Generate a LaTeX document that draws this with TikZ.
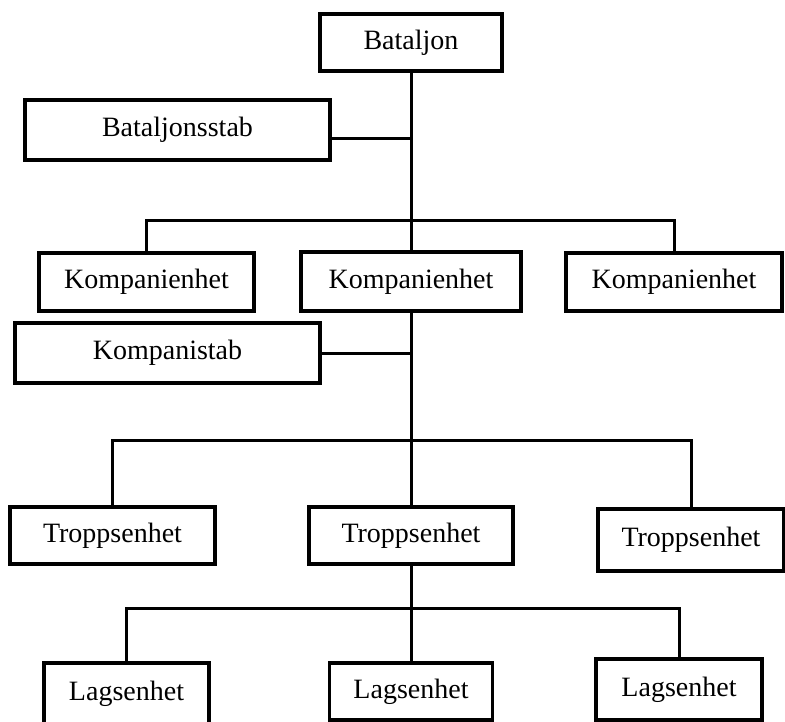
\documentclass[tikz,border=0pt]{standalone}
\usepackage{fontspec}
\setmainfont{Liberation Serif}
\usepackage{tikz}
\usetikzlibrary{positioning, calc}
\tikzset{
  unit/.style={rectangle, draw=black, line width=3.5pt, fill=white,
               align=center, inner sep=0pt,
               font=\fontsize{28}{33}\selectfont},
  link/.style={draw=black, line width=3pt},
}

\begin{document}
\begin{tikzpicture}[x=1pt, y=-1pt]
  \useasboundingbox (0,0) rectangle (785,722);

  %% Top level
  \node[unit, minimum width=182pt, minimum height=57pt] (bat) at (411,42.5) {Bataljon};
  \node[unit, minimum width=305pt, minimum height=60pt] (batstab) at (177.5,130) {Bataljonsstab};

  %% Companies
  \node[unit, minimum width=215pt, minimum height=58pt] (kompL) at (146.5,282) {Kompanienhet};
  \node[unit, minimum width=220pt, minimum height=59pt] (kompM) at (411,281.5) {Kompanienhet};
  \node[unit, minimum width=216pt, minimum height=58pt] (kompR) at (674,282) {Kompanienhet};
  \node[unit, minimum width=305pt, minimum height=60pt] (kompstab) at (167.5,353) {Kompanistab};

  %% Platoons
  \node[unit, minimum width=205pt, minimum height=57pt] (troppL) at (112.5,535.5) {Troppsenhet};
  \node[unit, minimum width=204pt, minimum height=57pt] (troppM) at (411,535.5) {Troppsenhet};
  \node[unit, minimum width=186pt, minimum height=62pt] (troppR) at (691,540) {Troppsenhet};

  %% Squads
  \node[unit, minimum width=165pt, minimum height=62pt] (lagL) at (126.5,694) {Lagsenhet};
  \node[unit, minimum width=163pt, minimum height=57pt] (lagM) at (411,691.5) {Lagsenhet};
  \node[unit, minimum width=166pt, minimum height=61pt] (lagR) at (679,689.5) {Lagsenhet};

  %% Bars
  \coordinate (bar1) at (411,221);
  \coordinate (bar2) at (411,440);
  \coordinate (bar3) at (411,608);
  \coordinate (stabjoin) at (batstab.east |- 0,139);

  %% Connectors
  \draw[link] (bat.south) -- (kompM.north);
  \draw[link] (stabjoin) -- (stabjoin -| bat.south);
  \draw[link] (kompL.north) |- (bar1) -| (kompR.north);

  \draw[link] (kompM.south) -- (troppM.north);
  \draw[link] (kompstab.east) -- (kompstab.east -| kompM.south);
  \draw[link] (troppL.north) |- (bar2) -| (troppR.north);

  \draw[link] (troppM.south) -- (lagM.north);
  \draw[link] (lagL.north) |- (bar3) -| (lagR.north);
\end{tikzpicture}
\end{document}
